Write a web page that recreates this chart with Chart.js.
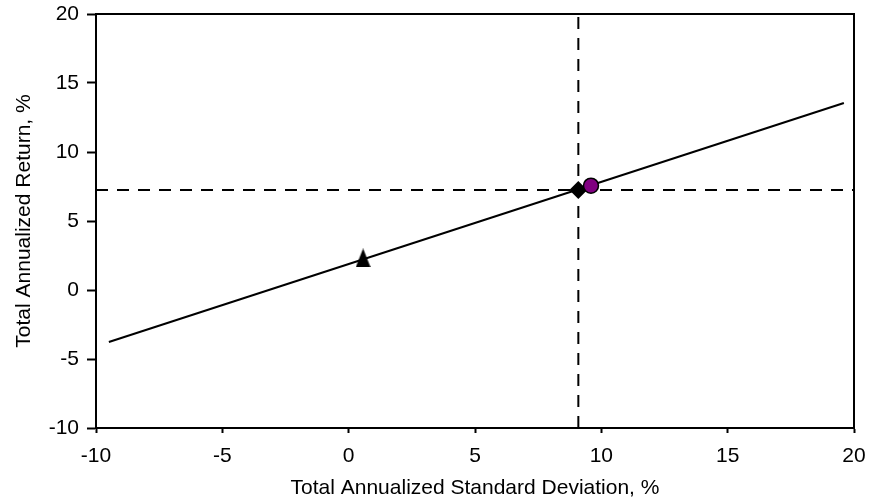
<!DOCTYPE html>
<html>
<head>
<meta charset="utf-8">
<script src="https://cdn.jsdelivr.net/npm/chart.js@4/dist/chart.umd.min.js"></script>
<style>
  html, body { margin: 0; padding: 0; background: #fff; }
  #wrap { width: 888px; height: 504px; }
</style>
</head>
<body>
<div id="wrap"><canvas id="myChart" width="888" height="504"></canvas></div>
<script>
// values
const lineX = [-9.49, 19.6];
const lineY = [-3.77, 13.55];
const trianglePoint = [0.57, 2.32];
const diamondPoint = [9.09, 7.25];
const circlePoint = [9.59, 7.56];
const crossX = 9.09;
const crossY = 7.25;
const axisMin = -10;
const axisMax = 20;
const tickStep = 5;

const xTitle = 'Total Annualized Standard Deviation, %';
const yTitle = 'Total Annualized Return, %';

const font = {family: '"Liberation Sans", Arial, sans-serif', size: 21};

// taller than chart.js' own triangle, like the excel marker
const tri = document.createElement('canvas');
tri.width = 15;
tri.height = 19;
const tctx = tri.getContext('2d');
tctx.fillStyle = '#000';
tctx.beginPath();
tctx.moveTo(7.5, 0);
tctx.lineTo(15, 19);
tctx.lineTo(0, 19);
tctx.closePath();
tctx.fill();

const plotBox = {
  id: 'plotBox',
  afterDatasetsDraw(chart) {
    const {ctx, chartArea: a} = chart;
    ctx.save();
    ctx.strokeStyle = '#000';
    ctx.lineWidth = 2;
    ctx.strokeRect(a.left, a.top, a.right - a.left, a.bottom - a.top);
    ctx.restore();
  },
};

const ctx = document.getElementById('myChart').getContext('2d');

new Chart(ctx, {
  type: 'scatter',
  data: {
    datasets: [
      {
        data: [{x: circlePoint[0], y: circlePoint[1]}],
        pointStyle: 'circle',
        pointRadius: 7.5,
        backgroundColor: '#800080',
        borderColor: '#000',
        borderWidth: 1.5,
      },
      {
        data: [{x: diamondPoint[0], y: diamondPoint[1]}],
        pointStyle: 'rectRot',
        pointRadius: 9,
        backgroundColor: '#000',
        borderColor: '#000',
        borderWidth: 0,
      },
      {
        data: [{x: trianglePoint[0], y: trianglePoint[1]}],
        pointStyle: tri,
        backgroundColor: '#000',
        borderColor: '#000',
      },
      {
        type: 'line',
        data: lineX.map((x, i) => ({x, y: lineY[i]})),
        borderColor: '#000',
        borderWidth: 2,
        pointRadius: 0,
        fill: false,
      },
      {
        type: 'line',
        data: [{x: crossX, y: axisMin}, {x: crossX, y: axisMax}],
        borderColor: '#000',
        borderWidth: 2,
        borderDash: [12, 9],
        pointRadius: 0,
        fill: false,
      },
      {
        type: 'line',
        data: [{x: axisMin, y: crossY}, {x: axisMax, y: crossY}],
        borderColor: '#000',
        borderWidth: 2,
        borderDash: [12, 9],
        pointRadius: 0,
        fill: false,
      },
    ],
  },
  options: {
    responsive: false,
    animation: false,
    layout: {
      padding: {top: 14, right: 34, bottom: 0, left: 0},
    },
    plugins: {
      legend: {display: false},
      tooltip: {enabled: false},
    },
    scales: {
      x: {
        type: 'linear',
        min: axisMin,
        max: axisMax,
        afterFit: scale => {
          scale.height = 76;
          scale.paddingLeft = 0;
          scale.paddingRight = 0;
        },
        ticks: {
          stepSize: tickStep,
          color: '#000',
          font,
          padding: 11,
          maxRotation: 0,
        },
        grid: {
          drawOnChartArea: false,
          drawTicks: true,
          tickLength: 5,
          tickColor: '#000',
          tickWidth: 2,
        },
        border: {display: true, color: '#000', width: 2},
        title: {
          display: true,
          text: xTitle,
          color: '#000',
          font,
          padding: {top: 0, bottom: 3},
        },
      },
      y: {
        type: 'linear',
        min: axisMin,
        max: axisMax,
        afterFit: scale => {
          scale.width = 96;
          scale.paddingTop = 0;
          scale.paddingBottom = 0;
        },
        ticks: {
          stepSize: tickStep,
          color: '#000',
          font,
          padding: 8,
        },
        grid: {
          drawOnChartArea: false,
          drawTicks: true,
          tickLength: 9,
          tickColor: '#000',
          tickWidth: 2,
        },
        border: {display: true, color: '#000', width: 2},
        title: {
          display: true,
          text: yTitle,
          color: '#000',
          font,
          padding: {top: 12, bottom: 0},
        },
      },
    },
  },
  plugins: [plotBox],
});
</script>
</body>
</html>
